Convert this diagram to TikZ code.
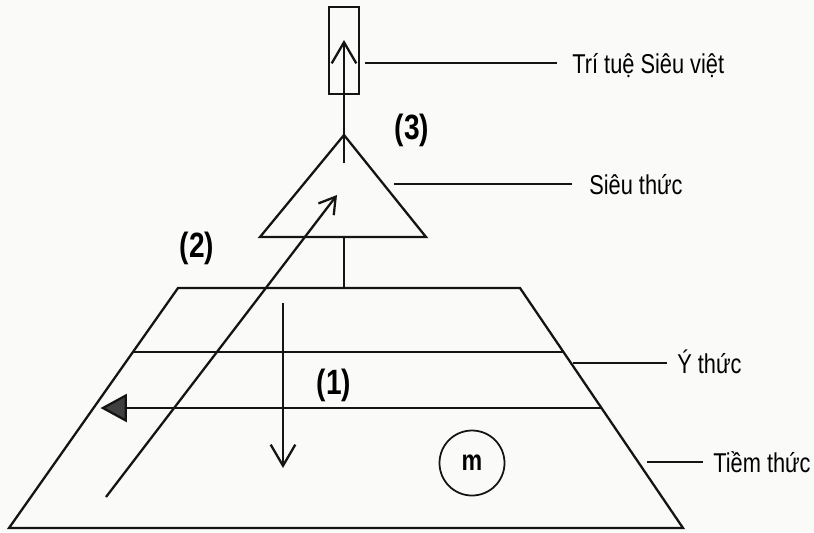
\documentclass[tikz,border=0pt]{standalone}
\usepackage{fontspec}
\setmainfont{Liberation Sans}[FakeStretch=0.8]
\usetikzlibrary{arrows.meta, calc}
\definecolor{paper}{RGB}{250,250,249}
\definecolor{ink}{RGB}{20,20,20}
\tikzset{
  edge/.style={draw=ink, line width=1.3pt},               % outlines
  lead/.style={draw=ink, line width=1.0pt},               % leader lines
  lbl/.style={anchor=west, inner sep=0pt, text height=11.4pt, text depth=0pt,
    font=\fontsize{15.5}{18}\selectfont},
  num/.style={inner sep=0pt, font=\fontsize{20}{24}\selectfont\bfseries},
  barb/.style={-{Straight Barb[length=12pt, width=14pt]}, draw=ink, line width=1.3pt},
  sbarb/.style={-{Straight Barb[length=9pt, width=11pt]}, draw=ink, line width=1.3pt},
  flow/.style={-{Triangle[length=15pt, width=16pt, fill=black!75]}, draw=ink, line width=1.3pt},
}

\begin{document}
\begin{tikzpicture}[x=0.02cm, y=-0.02cm]
\fill[paper] (0,0) rectangle (814,532);
\useasboundingbox (0,0) rectangle (814,532);

%% --- key points ---
\coordinate (tl) at (178,288);
\coordinate (tr) at (520,288);
\coordinate (br) at (683,528);
\coordinate (bl) at (9,528);
\coordinate (apex) at (344,135);
\coordinate (tbl) at (260,237);
\coordinate (tbr) at (426,237);

%% --- trapezoid (y thuc / tiem thuc) ---
\draw[edge, line join=miter] (tl) -- (tr) -- (br) -- (bl) -- cycle;
\draw[edge] ($(tl)!0.267!(bl)$) -- ($(tr)!0.267!(br)$);
\coordinate (mr) at ($(tr)!0.5!(br)$);
\coordinate (ml) at ($(tl)!0.5!(bl)$);
\draw[flow, shorten >=4pt] (mr) -- (ml);

%% --- triangle (sieu thuc) and stem ---
\draw[edge, line join=miter] (apex) -- (tbr) -- (tbl) -- cycle;
\coordinate (stem) at (344,237);
\draw[edge] (stem) -- (stem |- tl);

%% --- box (tri tue sieu viet) ---
\node[edge, draw, minimum width=17pt, minimum height=49.5pt, inner sep=0pt]
  (box) at (344,50.5) {};
\coordinate (upS) at (344,163);
\coordinate (upE) at (344,40);
\draw[barb] (upS) -- (upE);

%% --- arrows (1) and (2) ---
\coordinate (dnS) at (283,303);
\coordinate (dnE) at (283,468);
\draw[barb] (dnS) -- (dnE);
\coordinate (dgS) at (106,497);
\coordinate (dgE) at (337,195);
\draw[sbarb] (dgS) -- (dgE);

\node[num] (n1) at (334,385) {(1)};
\node[num] (n2) at (197,248) {(2)};
\node[num] (n3) at (412,130) {(3)};

%% --- m ---
\node[circle, draw=ink, line width=1.0pt, minimum size=37pt, inner sep=0pt,
  font=\fontsize{16.5}{18}\selectfont\bfseries] (m) at (472,463) {m};

%% --- labels ---
\node[lbl] (ttsv) at (572,63)  {Trí tuệ Siêu việt};
\node[lbl] (st)   at (589,184) {Siêu thức};
\node[lbl] (yt)   at (677,363) {Ý thức};
\node[lbl] (tt)   at (713,462) {Tiềm thức};

\draw[lead, shorten >=8.5pt] ([xshift=2.8pt]box.east |- ttsv.west) -- (ttsv.west);
\draw[lead, shorten >=9.7pt] (394,184) -- (st.west);
\draw[lead, shorten >=5.7pt] (573,363) -- (yt.west);
\draw[lead, shorten >=5.7pt] (647,462) -- (tt.west);

\end{tikzpicture}
\end{document}
